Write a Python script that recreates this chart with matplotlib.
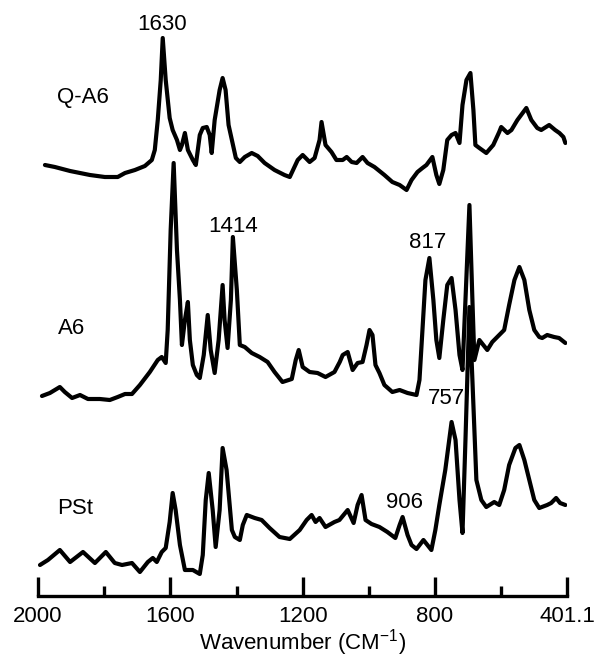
import numpy as np
import matplotlib
matplotlib.use("Agg")
import matplotlib.pyplot as plt

plt.rcParams['font.family'] = ['Liberation Sans', 'DejaVu Sans']
plt.rcParams['mathtext.fontset'] = 'custom'
plt.rcParams['mathtext.rm'] = 'Liberation Sans'
plt.rcParams['mathtext.default'] = 'regular'

# spectra: wavenumber (cm-1) and stacked intensity (a.u.)
wn_qa6 = [1979, 1949, 1903, 1843, 1798, 1759, 1737, 1707, 1677, 1656, 1647, 1638, 1629, 1623,
          1614, 1602, 1593, 1580, 1571, 1565, 1556, 1547, 1532, 1523, 1511, 1502, 1490, 1481,
          1475, 1466, 1451, 1442, 1433, 1424, 1414, 1402, 1390, 1375, 1354, 1336, 1315, 1285,
          1255, 1239, 1215, 1200, 1179, 1164, 1149, 1143, 1131, 1113, 1098, 1079, 1067, 1052,
          1037, 1019, 1004, 983, 953, 929, 907, 886, 871, 853, 838, 826, 808, 796, 787, 775,
          763, 750, 738, 726, 717, 705, 693, 684, 678, 666, 645, 624, 606, 600, 581, 569, 551,
          524, 509, 491, 479, 455, 437, 424, 412, 406]
abs_qa6 = [4.31, 4.29, 4.25, 4.21, 4.19, 4.19, 4.23, 4.26, 4.30, 4.36, 4.46, 4.76, 5.16, 5.58,
           5.16, 4.78, 4.66, 4.56, 4.46, 4.51, 4.63, 4.46, 4.36, 4.31, 4.61, 4.68, 4.69, 4.61,
           4.43, 4.76, 5.06, 5.18, 5.06, 4.71, 4.56, 4.38, 4.34, 4.39, 4.43, 4.40, 4.33, 4.26,
           4.21, 4.19, 4.36, 4.41, 4.34, 4.38, 4.56, 4.74, 4.51, 4.44, 4.36, 4.36, 4.39, 4.34,
           4.33, 4.39, 4.33, 4.29, 4.21, 4.14, 4.11, 4.06, 4.16, 4.24, 4.28, 4.31, 4.39, 4.21,
           4.12, 4.26, 4.56, 4.61, 4.63, 4.53, 4.91, 5.16, 5.23, 4.86, 4.51, 4.48, 4.43, 4.51,
           4.64, 4.69, 4.63, 4.66, 4.76, 4.88, 4.76, 4.68, 4.66, 4.71, 4.66, 4.63, 4.59, 4.53]

wn_a6 = [1988, 1964, 1934, 1919, 1897, 1873, 1849, 1813, 1783, 1759, 1737, 1716, 1692, 1662,
         1638, 1626, 1614, 1608, 1599, 1590, 1580, 1571, 1565, 1556, 1547, 1541, 1532, 1520,
         1511, 1499, 1487, 1478, 1466, 1454, 1442, 1436, 1427, 1417, 1411, 1399, 1390, 1375,
         1354, 1330, 1306, 1285, 1261, 1233, 1221, 1212, 1200, 1179, 1155, 1131, 1104, 1088,
         1079, 1064, 1049, 1034, 1019, 1007, 998, 989, 980, 968, 953, 929, 907, 883, 856, 847,
         838, 829, 817, 805, 796, 787, 775, 763, 750, 738, 726, 717, 708, 696, 687, 681, 666,
         654, 642, 627, 612, 591, 576, 560, 545, 530, 515, 500, 485, 476, 461, 440, 425, 406]
abs_a6 = [2.00, 2.03, 2.09, 2.04, 1.98, 2.01, 1.97, 1.97, 1.96, 1.99, 2.02, 2.02, 2.11, 2.24,
          2.36, 2.39, 2.33, 2.66, 3.66, 4.33, 3.46, 2.96, 2.51, 2.76, 2.94, 2.56, 2.31, 2.21,
          2.18, 2.41, 2.81, 2.46, 2.23, 2.56, 3.11, 2.76, 2.48, 2.96, 3.59, 3.06, 2.51, 2.49,
          2.43, 2.39, 2.34, 2.24, 2.14, 2.17, 2.36, 2.46, 2.29, 2.24, 2.23, 2.19, 2.24, 2.34,
          2.41, 2.44, 2.26, 2.33, 2.34, 2.51, 2.66, 2.61, 2.31, 2.23, 2.11, 2.04, 2.06, 2.03,
          2.01, 2.16, 2.66, 3.16, 3.38, 2.96, 2.56, 2.38, 2.76, 3.11, 3.18, 2.86, 2.41, 2.26,
          2.96, 3.91, 2.96, 2.36, 2.56, 2.51, 2.46, 2.54, 2.59, 2.66, 2.91, 3.16, 3.29, 3.16,
          2.86, 2.66, 2.59, 2.58, 2.61, 2.59, 2.58, 2.53]

wn_pst = [1994, 1970, 1934, 1903, 1864, 1828, 1795, 1768, 1746, 1716, 1692, 1668, 1653, 1641,
          1626, 1614, 1602, 1593, 1584, 1571, 1556, 1532, 1511, 1502, 1493, 1484, 1472, 1463,
          1451, 1442, 1430, 1414, 1405, 1390, 1381, 1369, 1345, 1324, 1300, 1270, 1239, 1209,
          1188, 1173, 1161, 1149, 1131, 1104, 1089, 1064, 1046, 1034, 1022, 1010, 992, 968, 944,
          920, 907, 898, 883, 871, 856, 835, 811, 799, 787, 769, 750, 738, 726, 717, 708, 696,
          687, 675, 660, 645, 621, 606, 591, 576, 557, 545, 530, 515, 500, 485, 461, 449, 434,
          422, 406]
abs_pst = [0.31, 0.36, 0.46, 0.34, 0.44, 0.33, 0.44, 0.33, 0.31, 0.33, 0.24, 0.34, 0.38, 0.34,
           0.44, 0.48, 0.74, 1.03, 0.86, 0.51, 0.26, 0.26, 0.22, 0.41, 0.96, 1.23, 0.86, 0.49,
           0.86, 1.48, 1.26, 0.66, 0.59, 0.56, 0.71, 0.81, 0.78, 0.76, 0.68, 0.59, 0.57, 0.66,
           0.76, 0.81, 0.74, 0.78, 0.69, 0.74, 0.76, 0.86, 0.73, 0.91, 1.01, 0.76, 0.72, 0.69,
           0.64, 0.58, 0.71, 0.79, 0.61, 0.51, 0.47, 0.56, 0.46, 0.66, 0.91, 1.26, 1.74, 1.56,
           0.96, 0.63, 1.56, 2.89, 2.16, 1.16, 0.96, 0.89, 0.94, 0.91, 1.06, 1.31, 1.48, 1.51,
           1.36, 1.16, 0.96, 0.88, 0.91, 0.93, 0.98, 0.93, 0.91]

# sample names and band labels
sample_names = ['Q-A6', 'A6', 'PSt']
sample_label_pos = [(1864, 4.99), (1897, 2.68), (1888, 0.87)]
band_labels = ['1630', '1414', '817', '757', '906']
band_label_pos = [(1626, 5.71), (1411, 3.69), (823, 3.53), (766, 1.98), (892, 0.94)]

major_ticks = [2000, 1600, 1200, 800, 401.1]
major_labels = ['2000', '1600', '1200', '800', '401.1']
minor_ticks = [1800, 1400, 1000, 600]

fig = plt.figure(figsize=(5.95, 6.6), dpi=100)
ax = fig.add_axes([38 / 595, 64 / 660, 529 / 595, 576 / 660])

for wn, a in [(wn_qa6, abs_qa6), (wn_a6, abs_a6), (wn_pst, abs_pst)]:
    ax.plot(wn, a, color='black', lw=3, solid_joinstyle='round', solid_capstyle='round')

for name, (x, y) in zip(sample_names, sample_label_pos):
    ax.text(x, y, name, fontsize=16, ha='center', va='center')
for name, (x, y) in zip(band_labels, band_label_pos):
    ax.text(x, y, name, fontsize=16, ha='center', va='center')

ax.set_xlim(2000, 401.1)
ax.set_ylim(0, 5.76)
for s in ['top', 'left', 'right']:
    ax.spines[s].set_visible(False)
ax.spines['bottom'].set_linewidth(2.4)
ax.set_yticks([])
ax.set_xticks(major_ticks)
ax.set_xticklabels(major_labels)
ax.set_xticks(minor_ticks, minor=True)
ax.tick_params(axis='x', which='major', direction='in', length=14, width=2.4, pad=7, labelsize=16)
ax.tick_params(axis='x', which='minor', direction='in', length=7, width=2.4)
ax.set_xlabel('Wavenumber (CM$^{-1}$)', fontsize=16, labelpad=0)

fig.savefig('out.png', dpi=100)
